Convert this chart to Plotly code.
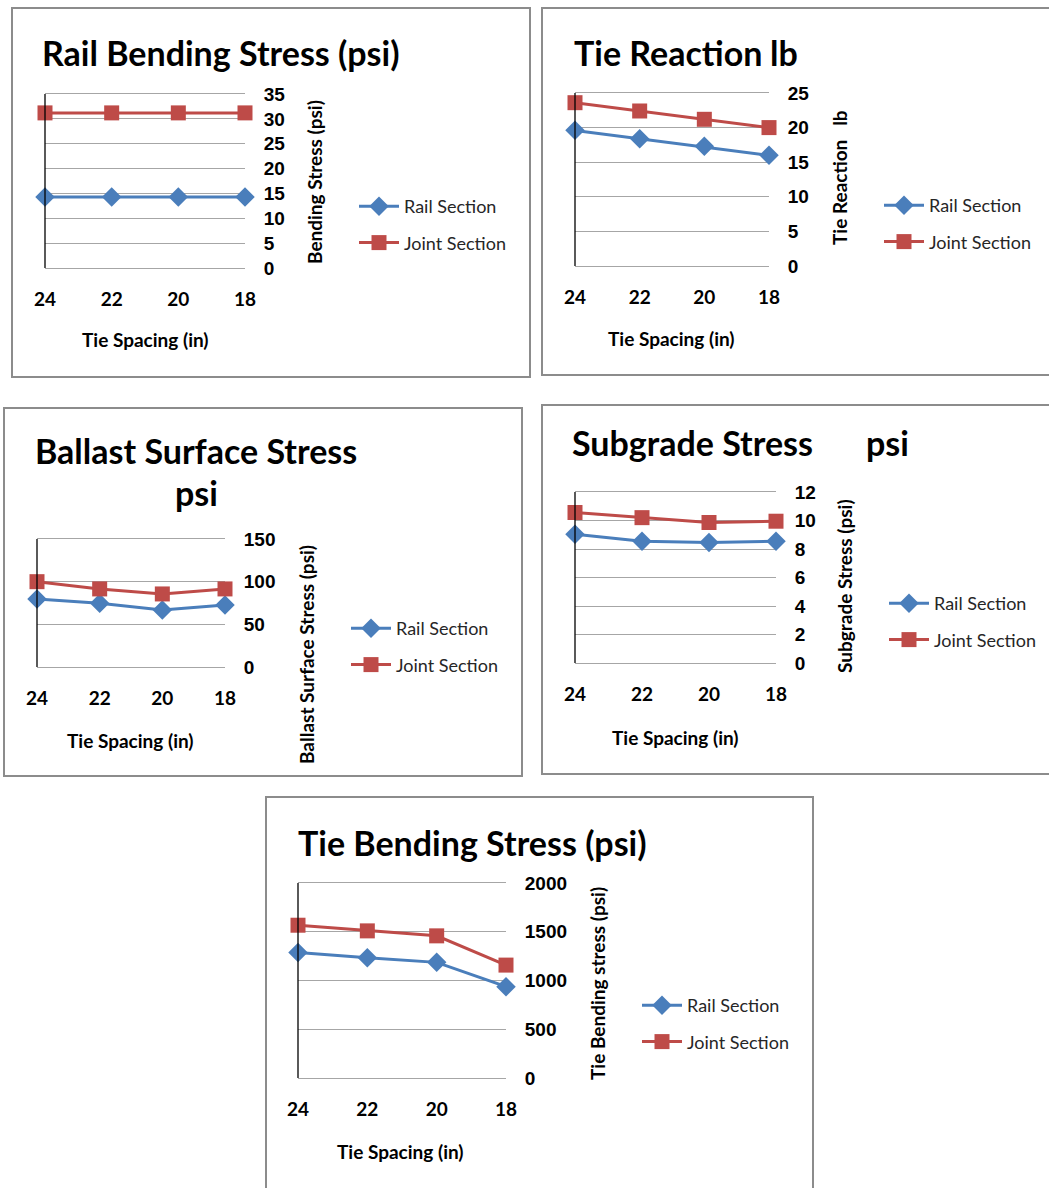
import plotly.graph_objects as go

# ---- data -------------------------------------------------------------
tie_spacing = [24, 22, 20, 18]

rail_bending_rail = [14.3, 14.3, 14.3, 14.3]
rail_bending_joint = [31.2, 31.2, 31.2, 31.2]

tie_reaction_rail = [19.6, 18.4, 17.3, 16.0]
tie_reaction_joint = [23.6, 22.4, 21.2, 20.0]

ballast_rail = [79.7, 74.7, 66.8, 72.7]
ballast_joint = [100.0, 91.5, 85.6, 91.5]

subgrade_rail = [9.04, 8.55, 8.46, 8.55]
subgrade_joint = [10.56, 10.2, 9.86, 9.95]

tie_bending_rail = [1288, 1233, 1186, 937]
tie_bending_joint = [1567, 1509, 1458, 1158]

series_names = ["Rail Section", "Joint Section"]

# ---- page geometry (pixels) -------------------------------------------
W, H = 1049, 1188


def fx(x):
    return x / W


def fy(y):
    return 1 - y / H


BLUE = "#4a7ebb"
RED = "#be4b48"
GRID = "#a6a6a6"
FRAME = "#8c8c8c"
TITLE_FONT = "Lato"
TICK_FONT = "Liberation Sans"

charts = [
    dict(rail=rail_bending_rail, joint=rail_bending_joint,
         plot=(45, 94, 245, 268), yr=(0, 35), dt=5,
         ytitle="Bending Stress (psi)", yt=(314, 182),
         xt=(145, 340), leg=(354, 188)),
    dict(rail=tie_reaction_rail, joint=tie_reaction_joint,
         plot=(575, 93, 769, 266), yr=(0, 25), dt=5,
         ytitle="Tie Reaction \u00a0 lb", yt=(839, 178),
         xt=(671, 338), leg=(879, 187)),
    dict(rail=ballast_rail, joint=ballast_joint,
         plot=(37, 539, 225, 667), yr=(0, 150), dt=50,
         ytitle="Ballast Surface Stress (psi)", yt=(306, 655),
         xt=(130, 740), leg=(346, 610)),
    dict(rail=subgrade_rail, joint=subgrade_joint,
         plot=(575, 492, 776, 663), yr=(0, 12), dt=2,
         ytitle="Subgrade Stress (psi)", yt=(844, 586),
         xt=(675, 737), leg=(884, 585)),
    dict(rail=tie_bending_rail, joint=tie_bending_joint,
         plot=(298, 883, 506, 1078), yr=(0, 2000), dt=500,
         ytitle="Tie Bending stress (psi)", yt=(597, 984),
         xt=(400, 1151), leg=(637, 987)),
]

fig = go.Figure()
shapes = []
annotations = []

# outer chart frames
frames = [(12, 8, 530, 377), (542, 8, 1053, 375), (4, 408, 522, 776),
          (542, 405, 1053, 774), (266, 797, 813, 1192)]
for x0, y0, x1, y1 in frames:
    shapes.append(dict(type="rect", xref="paper", yref="paper",
                       x0=fx(x0), x1=fx(x1), y0=fy(y1), y1=fy(y0),
                       line=dict(color=FRAME, width=2), layer="below"))

for i, c in enumerate(charts, start=1):
    sfx = "" if i == 1 else str(i)
    xa, ya = "x" + sfx, "y" + sfx
    leg = "legend" + sfx
    x0, y0, x1, y1 = c["plot"]

    for name, vals, col, sym, size in (
            (series_names[0], c["rail"], BLUE, "diamond", 15),
            (series_names[1], c["joint"], RED, "square", 15)):
        fig.add_trace(go.Scatter(
            x=tie_spacing, y=vals, name=name, mode="lines+markers",
            xaxis=xa, yaxis=ya, legend=leg, legendgroup=f"{name}{i}",
            line=dict(color=col, width=3),
            marker=dict(symbol=sym, size=size, color=col),
            cliponaxis=False, hoverinfo="x+y+name"))

    fig.layout["xaxis" + sfx] = dict(
        domain=[fx(x0), fx(x1)], anchor=ya, range=[24, 18],
        tickvals=tie_spacing, ticktext=[str(v) for v in tie_spacing],
        showgrid=False, zeroline=False, showline=True,
        linecolor=GRID, linewidth=1, mirror=True, automargin=False,
        ticks="outside", ticklen=14, tickcolor="rgba(0,0,0,0)",
        tickfont=dict(family=TITLE_FONT, size=19, color="black",
                      weight="bold"))
    fig.layout["yaxis" + sfx] = dict(
        domain=[fy(y1), fy(y0)], anchor=xa, side="right",
        range=list(c["yr"]), dtick=c["dt"], tick0=0,
        showgrid=True, gridcolor=GRID, gridwidth=1, zeroline=False,
        showline=False, automargin=False,
        ticks="outside", ticklen=14, tickcolor="rgba(0,0,0,0)",
        tickfont=dict(family=TICK_FONT, size=19, color="black",
                      weight="bold"))

    # dark left border of the plot area
    shapes.append(dict(type="line", xref=xa + " domain", yref=ya + " domain",
                       x0=0, x1=0, y0=0, y1=1,
                       line=dict(color="black", width=1.3)))

    lx, ly = c["leg"]
    fig.layout[leg] = dict(
        x=fx(lx), y=fy(ly), xanchor="left", yanchor="top",
        bgcolor="rgba(0,0,0,0)", borderwidth=0, itemwidth=40,
        traceorder="grouped", tracegroupgap=10,
        font=dict(family=TITLE_FONT, size=18, color="#262626"))

    annotations.append(dict(
        text=c["ytitle"], xref="paper", yref="paper",
        x=fx(c["yt"][0]), y=fy(c["yt"][1]), textangle=-90,
        showarrow=False, xanchor="center", yanchor="middle",
        font=dict(family=TITLE_FONT, size=19, color="black", weight="bold")))
    annotations.append(dict(
        text="Tie Spacing (in)", xref="paper", yref="paper",
        x=fx(c["xt"][0]), y=fy(c["xt"][1]),
        showarrow=False, xanchor="center", yanchor="middle",
        font=dict(family=TITLE_FONT, size=19, color="black", weight="bold")))

# chart titles
title_font = dict(family=TITLE_FONT, size=34, color="black", weight="bold")
titles = [
    ("Rail Bending Stress (psi)", 40, 52, "left"),
    ("Tie Reaction", 572, 52, "left"),
    ("lb", 768, 52, "left"),
    ("Ballast Surface Stress", 196, 450, "center"),
    ("psi", 196, 492, "center"),
    ("Subgrade Stress", 570, 443, "left"),
    ("psi", 864, 443, "left"),
    ("Tie Bending Stress (psi)", 296, 842, "left"),
]
for text, x, y, anchor in titles:
    annotations.append(dict(text=text, xref="paper", yref="paper",
                            x=fx(x), y=fy(y), showarrow=False,
                            xanchor=anchor, yanchor="middle",
                            font=title_font))

fig.update_layout(
    width=W, height=H,
    margin=dict(l=0, r=0, t=0, b=0, pad=0, autoexpand=False),
    paper_bgcolor="white", plot_bgcolor="white",
    shapes=shapes, annotations=annotations, showlegend=True)

fig.write_html("out.html")
